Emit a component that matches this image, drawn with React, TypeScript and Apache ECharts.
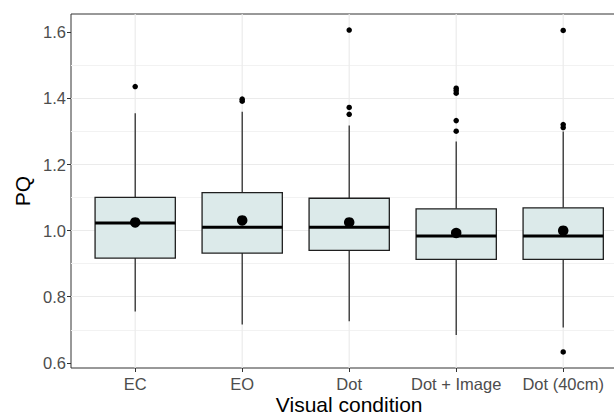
import React, { useEffect, useRef } from "react";
import * as echarts from "echarts";

const categories = ["EC", "EO", "Dot", "Dot + Image", "Dot (40cm)"];
const whiskerLow = [0.755, 0.716, 0.726, 0.684, 0.707];
const q1 = [0.917, 0.932, 0.94, 0.913, 0.913];
const median = [1.023, 1.01, 1.01, 0.984, 0.984];
const q3 = [1.101, 1.115, 1.098, 1.066, 1.069];
const whiskerHigh = [1.355, 1.36, 1.318, 1.27, 1.3];
const means = [1.025, 1.031, 1.025, 0.993, 1.0];
const outliers = [
  [1.436],
  [1.398, 1.392],
  [1.607, 1.373, 1.352],
  [1.431, 1.424, 1.416, 1.333, 1.301],
  [1.606, 1.321, 1.312, 0.633],
];
const yTicks = [0.6, 0.8, 1.0, 1.2, 1.4, 1.6];
const xTicks = [0, 1, 2, 3, 4];

export default function App() {
  const ref = useRef<HTMLDivElement>(null);
  useEffect(() => {
    document.body.style.margin = "0";
    if (!ref.current) return;
    const chart = echarts.init(ref.current, null, { renderer: "svg" });

    const allVals = outliers.flat().concat(whiskerLow, whiskerHigh);
    const dMin = Math.min(...allVals);
    const dMax = Math.max(...allVals);
    const pad = (dMax - dMin) * 0.05;

    const boxData = categories.map((_, i) => [i, whiskerLow[i], q1[i], median[i], q3[i], whiskerHigh[i]]);
    const outData: number[][] = [];
    outliers.forEach((arr, i) => arr.forEach((v) => outData.push([i, v])));
    const meanData = means.map((v, i) => [i, v]);

    const font = "'Liberation Sans', Arial, sans-serif";

    chart.setOption({
      animation: false,
      backgroundColor: "#ffffff",
      grid: {
        left: 71,
        top: 14,
        bottom: 47,
        right: -13.4,
        outerBoundsMode: "none",
        containLabel: false,
        show: true,
        borderColor: "#333333",
        borderWidth: 1,
        backgroundColor: "#ffffff",
      },
      xAxis: {
        type: "value",
        min: -0.6,
        max: 4.6,
        splitNumber: 5,
        axisLine: { show: false, onZero: false },
        axisTick: {
          show: true,
          customValues: xTicks,
          length: 4,
          lineStyle: { color: "#333333", width: 1 },
        },
        axisLabel: {
          customValues: xTicks,
          formatter: (v: number) => categories[Math.round(v)] ?? "",
          color: "#4D4D4D",
          fontSize: 16.5,
          fontFamily: font,
          margin: 7.5,
        },
        splitLine: { show: false },
        name: "Visual condition",
        nameLocation: "middle",
        nameGap: 26,
        nameMoveOverlap: false,
        nameTextStyle: { fontSize: 21, color: "#000000", fontFamily: font },
      },
      yAxis: {
        type: "value",
        min: dMin - pad,
        max: dMax + pad,
        splitNumber: 5,
        axisLine: { show: false, onZero: false },
        axisTick: {
          show: true,
          customValues: yTicks,
          length: 4,
          lineStyle: { color: "#333333", width: 1 },
        },
        axisLabel: {
          customValues: yTicks,
          formatter: (v: number) => v.toFixed(1),
          color: "#4D4D4D",
          fontSize: 16.5,
          fontFamily: font,
          margin: 5,
        },
        splitLine: {
          show: true,
          showMinLine: false,
          showMaxLine: false,
          lineStyle: { color: "#EBEBEB", width: 1.2 },
        },
        minorTick: { show: false, splitNumber: 2 },
        minorSplitLine: { show: true, lineStyle: { color: "#F2F2F2", width: 1 } },
        name: "PQ",
        nameLocation: "middle",
        nameRotate: 90,
        nameGap: 38,
        nameMoveOverlap: false,
        nameTextStyle: { fontSize: 21, color: "#000000", fontFamily: font },
      },
      series: [
        {
          type: "custom",
          data: xTicks.map((v) => [v]),
          encode: { x: 0 },
          silent: true,
          renderItem: (params: any, api: any) => {
            const x = api.value(0);
            const cs = params.coordSys;
            const p = api.coord([x, 1]);
            return {
              type: "line",
              shape: { x1: p[0], y1: cs.y, x2: p[0], y2: cs.y + cs.height },
              style: { stroke: "#EBEBEB", lineWidth: 1.2 },
            };
          },
          z: 1,
        },
        {
          type: "custom",
          data: boxData,
          encode: { x: 0, y: [1, 2, 3, 4, 5] },
          renderItem: (params: any, api: any) => {
            const x = api.value(0);
            const pLo = api.coord([x, api.value(1)]);
            const pQ1 = api.coord([x, api.value(2)]);
            const pMed = api.coord([x, api.value(3)]);
            const pQ3 = api.coord([x, api.value(4)]);
            const pHi = api.coord([x, api.value(5)]);
            const half = api.size([0.75, 0])[0] / 2;
            const cx = pMed[0];
            const stroke = "#1f1f1f";
            return {
              type: "group",
              children: [
                {
                  type: "line",
                  shape: { x1: cx, y1: pHi[1], x2: cx, y2: pQ3[1] },
                  style: { stroke, lineWidth: 1.2 },
                },
                {
                  type: "line",
                  shape: { x1: cx, y1: pQ1[1], x2: cx, y2: pLo[1] },
                  style: { stroke, lineWidth: 1.2 },
                },
                {
                  type: "rect",
                  shape: { x: cx - half, y: pQ3[1], width: half * 2, height: pQ1[1] - pQ3[1] },
                  style: { fill: "#DCEAEA", stroke, lineWidth: 1.3 },
                },
                {
                  type: "line",
                  shape: { x1: cx - half, y1: pMed[1], x2: cx + half, y2: pMed[1] },
                  style: { stroke: "#000000", lineWidth: 3 },
                },
              ],
            };
          },
          z: 2,
        },
        {
          type: "scatter",
          data: outData,
          symbol: "circle",
          symbolSize: 5.5,
          itemStyle: { color: "#000000", opacity: 1 },
          z: 3,
        },
        {
          type: "scatter",
          data: meanData,
          symbol: "circle",
          symbolSize: 10.5,
          itemStyle: { color: "#000000", opacity: 1 },
          z: 4,
        },
      ],
    });
    return () => chart.dispose();
  }, []);
  return <div ref={ref} style={{ width: 614, height: 415 }} />;
}
